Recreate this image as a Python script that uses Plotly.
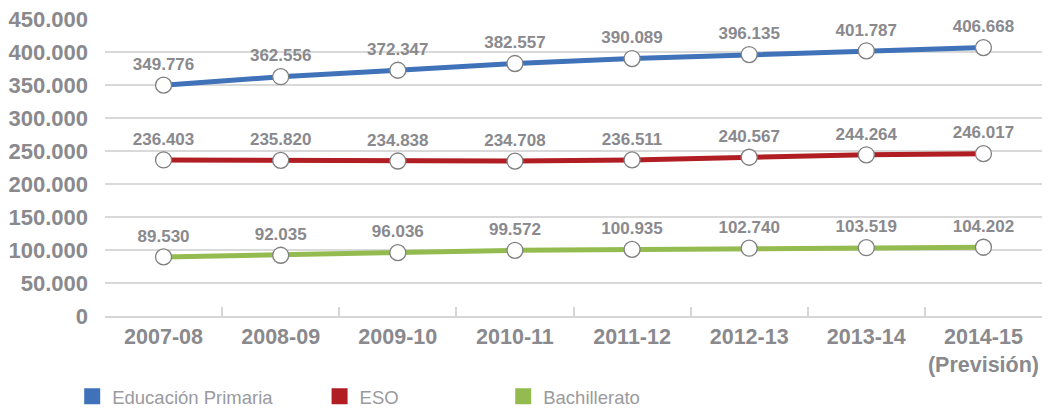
import plotly.graph_objects as go

categories = ["2007-08", "2008-09", "2009-10", "2010-11", "2011-12", "2012-13", "2013-14", "2014-15<br>(Previsión)"]
primaria = [349776, 362556, 372347, 382557, 390089, 396135, 401787, 406668]
eso = [236403, 235820, 234838, 234708, 236511, 240567, 244264, 246017]
bachillerato = [89530, 92035, 96036, 99572, 100935, 102740, 103519, 104202]
series_names = ["Educación Primaria", "ESO", "Bachillerato"]
series_colors = ["#3f72b8", "#b01e24", "#94bb50"]
tick_vals = [0, 50000, 100000, 150000, 200000, 250000, 300000, 350000, 400000, 450000]

def fmt(v):
    return f"{v:,}".replace(",", ".")

grey = "#89898e"
bold_font = "Liberation Sans, Arial, sans-serif"

fig = go.Figure()
for name, vals, col in zip(series_names, [primaria, eso, bachillerato], series_colors):
    fig.add_trace(go.Scatter(
        x=categories, y=vals, mode="lines+markers+text",
        line=dict(color=col, width=5),
        marker=dict(size=16, color="white", line=dict(color="#7f7f7f", width=1.3)),
        text=[fmt(v) for v in vals], textposition="top center",
        textfont=dict(family=bold_font, size=17, color=grey, weight="bold"),
        showlegend=False, cliponaxis=False,
    ))

legend_x = [-0.035, 0.229, 0.425]
for i, (name, col) in enumerate(zip(series_names, series_colors)):
    lg = "legend" if i == 0 else f"legend{i+1}"
    fig.add_trace(go.Scatter(
        x=[None], y=[None], mode="markers", name=name,
        marker=dict(symbol="square", size=18, color=col),
        legend=lg, showlegend=True,
    ))

legend_common = dict(orientation="h", yanchor="middle", xanchor="left", y=-0.272,
                     font=dict(family=bold_font, size=18.5, color="#9a9a9e"),
                     bgcolor="rgba(0,0,0,0)")
fig.update_layout(
    legend=dict(x=legend_x[0], **legend_common),
    legend2=dict(x=legend_x[1], **legend_common),
    legend3=dict(x=legend_x[2], **legend_common),
)

fig.update_xaxes(
    type="category", range=[-0.5, 7.5], tickangle=0, automargin=False,
    showgrid=False, showline=True, linecolor="#d6d6d6", linewidth=1.5,
    ticks="inside", tickson="boundaries", ticklen=9, tickcolor="#d6d6d6", tickwidth=1.5,
    tickfont=dict(family=bold_font, size=21.5, color=grey, weight="bold"),
    fixedrange=True,
)
fig.update_yaxes(
    range=[0, 450000], tickvals=tick_vals, ticktext=[fmt(v) for v in tick_vals],
    showgrid=True, gridcolor="#d9d9d9", gridwidth=1.5, zeroline=False, showline=False,
    tickfont=dict(family=bold_font, size=22, color=grey, weight="bold"),
    ticklabelstandoff=16, automargin=False,
)
fig.update_layout(
    width=1049, height=411,
    margin=dict(l=105, r=7, t=19, b=95, autoexpand=False),
    plot_bgcolor="white", paper_bgcolor="white",
)
fig.write_html("out.html", config={"displayModeBar": False},
               post_script="document.body.style.margin='0';")
